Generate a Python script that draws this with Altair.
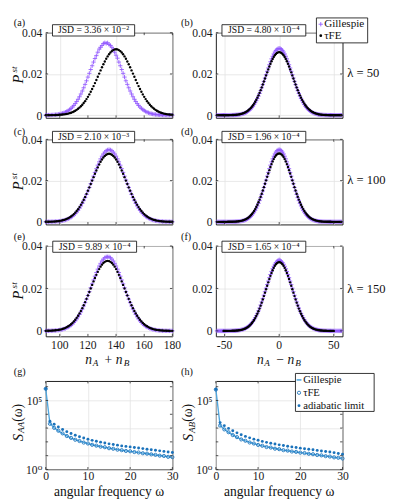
import altair as alt
import pandas as pd

FONT = "Liberation Serif, DejaVu Serif, serif"
PURPLE = "#9259FF"
BLUE = "#1A72BB"
LBLUE = "#4FA6DE"
PLUS = "M-1,0L1,0M0,-1L0,1"
ONE = pd.DataFrame({"k": [0]})
W = 131

# ---------------- tick values / labels ----------------
SUMGRID = [100, 120, 140, 160, 180]
SUMLABELS = ["100", "120", "140", "160", "180"]
DIFGRID = [-50, 0, 50]
DIFLABELS = ["-50", "0", "50"]
PGRID = [0, 200, 400]
WGRID = [0, 10, 20, 30]
SGRID = [1, 10, 100, 1000, 10000, 100000, 1000000]

# ---------------- data: n_A + n_B (x = 90..180) ----------------
x_sum = list(range(90, 181))
a_gil = [0.3, 0.5, 0.6, 0.8, 1.1, 1.5, 2.0, 2.6, 3.4, 4.4,
         5.7, 7.3, 9.2, 11.7, 14.6, 18.1, 22.2, 27.2, 32.9, 39.7,
         47.4, 56.1, 66.1, 77.1, 89.4, 102.8, 117.4, 133.0, 149.5, 166.8,
         184.8, 203.1, 221.5, 239.8, 257.7, 274.8, 289.0, 305.5, 320.5, 329.5,
         338.3, 347.5, 351.2, 348.5, 350.9, 343.0, 338.3, 329.5, 320.1, 305.5,
         290.8, 276.5, 257.7, 239.8, 221.5, 203.1, 184.8, 166.8, 149.5, 133.0,
         117.4, 102.8, 89.4, 77.1, 66.1, 56.1, 47.4, 39.7, 32.9, 27.2,
         22.2, 18.1, 14.6, 11.7, 9.2, 7.3, 5.7, 4.4, 3.4, 2.6,
         2.0, 1.5, 1.1, 0.8, 0.6, 0.5, 0.3, 0.2, 0.2, 0.1,
         0.1]
a_tfe = [0.1, 0.2, 0.2, 0.3, 0.4, 0.5, 0.6, 0.9, 1.1, 1.5,
         1.9, 2.5, 3.1, 4.0, 5.1, 6.3, 7.9, 9.8, 12.1, 14.8,
         18.0, 21.7, 26.0, 31.0, 36.8, 43.3, 50.7, 58.9, 68.0, 78.0,
         89.0, 100.8, 113.5, 126.9, 141.1, 155.8, 170.9, 186.3, 201.9, 217.3,
         232.4, 246.9, 260.7, 273.6, 285.2, 295.4, 304.0, 310.9, 315.9, 319.0,
         320.0, 319.0, 315.9, 310.9, 304.0, 295.4, 285.2, 273.6, 260.7, 246.9,
         232.4, 217.3, 201.9, 186.3, 170.9, 155.8, 141.1, 126.9, 113.5, 100.8,
         89.0, 78.0, 68.0, 58.9, 50.7, 43.3, 36.8, 31.0, 26.0, 21.7,
         18.0, 14.8, 12.1, 9.8, 7.9, 6.3, 5.1, 4.0, 3.1, 2.5,
         1.9]
c_gil = [0.2, 0.2, 0.3, 0.5, 0.6, 0.8, 1.1, 1.5, 2.0, 2.6,
         3.4, 4.4, 5.7, 7.3, 9.2, 11.7, 14.6, 18.1, 22.2, 27.2,
         32.9, 39.7, 47.4, 56.1, 66.1, 77.1, 89.4, 102.8, 117.4, 133.0,
         149.5, 166.8, 184.8, 203.1, 221.5, 239.8, 257.7, 274.8, 290.8, 305.5,
         318.4, 329.5, 338.3, 344.8, 348.7, 350.0, 348.7, 344.8, 338.3, 329.5,
         318.4, 305.5, 290.8, 274.8, 257.7, 239.8, 221.5, 203.1, 184.8, 166.8,
         149.5, 133.0, 117.4, 102.8, 89.4, 77.1, 66.1, 56.1, 47.4, 39.7,
         32.9, 27.2, 22.2, 18.1, 14.6, 11.7, 9.2, 7.3, 5.7, 4.4,
         3.4, 2.6, 2.0, 1.5, 1.1, 0.8, 0.6, 0.5, 0.3, 0.2,
         0.2]
c_tfe = [0.3, 0.4, 0.5, 0.7, 1.0, 1.3, 1.7, 2.2, 2.8, 3.7,
         4.7, 6.0, 7.5, 9.4, 11.7, 14.5, 17.8, 21.7, 26.3, 31.5,
         37.7, 44.6, 52.6, 61.5, 71.4, 82.3, 94.2, 107.2, 121.0, 135.7,
         151.1, 167.1, 183.5, 200.1, 216.8, 233.2, 249.1, 264.2, 278.4, 291.2,
         302.6, 312.2, 319.8, 325.4, 328.8, 330.0, 328.8, 325.4, 319.8, 312.2,
         302.6, 291.2, 278.4, 264.2, 249.1, 233.2, 216.8, 200.1, 183.5, 167.1,
         151.1, 135.7, 121.0, 107.2, 94.2, 82.3, 71.4, 61.5, 52.6, 44.6,
         37.7, 31.5, 26.3, 21.7, 17.8, 14.5, 11.7, 9.4, 7.5, 6.0,
         4.7, 3.7, 2.8, 2.2, 1.7, 1.3, 1.0, 0.7, 0.5, 0.4,
         0.3]
e_gil = [0.2, 0.3, 0.5, 0.6, 0.8, 1.1, 1.5, 2.0, 2.6, 3.4,
         4.4, 5.7, 7.3, 9.2, 11.7, 14.6, 18.1, 22.2, 27.2, 32.9,
         39.7, 47.4, 56.1, 66.1, 77.1, 89.4, 102.8, 117.4, 133.0, 149.5,
         166.8, 184.8, 203.1, 221.5, 239.8, 257.7, 274.8, 290.8, 305.5, 318.4,
         329.5, 338.3, 344.8, 348.7, 349.0, 348.7, 344.8, 338.3, 329.5, 318.4,
         305.5, 290.8, 274.8, 257.7, 239.8, 221.5, 203.1, 184.8, 166.8, 149.5,
         133.0, 117.4, 102.8, 89.4, 77.1, 66.1, 56.1, 47.4, 39.7, 32.9,
         27.2, 22.2, 18.1, 14.6, 11.7, 9.2, 7.3, 5.7, 4.4, 3.4,
         2.6, 2.0, 1.5, 1.1, 0.8, 0.6, 0.5, 0.3, 0.2, 0.2,
         0.1]
e_tfe = [0.4, 0.5, 0.7, 1.0, 1.3, 1.7, 2.2, 2.8, 3.7, 4.7,
         6.0, 7.5, 9.4, 11.7, 14.5, 17.8, 21.7, 26.3, 31.5, 37.7,
         44.6, 52.6, 61.5, 71.4, 82.3, 94.2, 107.2, 121.0, 135.7, 151.1,
         167.1, 183.5, 200.1, 216.8, 233.2, 249.1, 264.2, 278.4, 291.2, 302.6,
         312.2, 319.8, 325.4, 328.8, 330.0, 328.8, 325.4, 319.8, 312.2, 302.6,
         291.2, 278.4, 264.2, 249.1, 233.2, 216.8, 200.1, 183.5, 167.1, 151.1,
         135.7, 121.0, 107.2, 94.2, 82.3, 71.4, 61.5, 52.6, 44.6, 37.7,
         31.5, 26.3, 21.7, 17.8, 14.5, 11.7, 9.4, 7.5, 6.0, 4.7,
         3.7, 2.8, 2.2, 1.7, 1.3, 1.0, 0.7, 0.5, 0.4, 0.3,
         0.2]

# ---------------- data: n_A - n_B (x = -57..57) ----------------
x_dif = list(range(-57, 58))
x_dif_f = list(range(-51, 51))
b_gil = [0, 0, 0, 0, 0, 0, 0, 0.1, 0.1, 0.1,
         0.2, 0.2, 0.3, 0.4, 0.5, 0.7, 0.9, 1.3, 1.7, 2.1,
         2.8, 3.6, 4.6, 5.9, 7.4, 9.3, 11.5, 14.2, 17.5, 21.3,
         25.8, 31.0, 37.0, 43.8, 51.6, 60.4, 70.1, 80.8, 92.5, 105.2,
         118.8, 133.2, 148.3, 164.0, 180.2, 196.5, 212.9, 228.9, 244.6, 259.4,
         273.3, 285.9, 297.1, 306.5, 314.0, 319.5, 322.9, 324.0, 322.9, 319.5,
         314.0, 306.5, 297.1, 285.9, 273.3, 259.4, 244.6, 228.9, 212.9, 196.5,
         180.2, 164.0, 148.3, 133.2, 118.8, 105.2, 92.5, 80.8, 70.1, 60.4,
         51.6, 43.8, 37.0, 31.0, 25.8, 21.3, 17.5, 14.2, 11.5, 9.3,
         7.4, 5.9, 4.6, 3.6, 2.8, 2.1, 1.7, 1.3, 0.9, 0.7,
         0.5, 0.4, 0.3, 0.2, 0.2, 0.1, 0.1, 0.1, 0, 0,
         0, 0, 0, 0, 0]
b_tfe = [0, 0, 0, 0, 0.1, 0.1, 0.1, 0.1, 0.2, 0.2,
         0.3, 0.3, 0.5, 0.6, 0.8, 1.1, 1.4, 1.8, 2.4, 3.0,
         3.8, 4.8, 6.1, 7.6, 9.4, 11.5, 14.1, 17.2, 20.7, 24.9,
         29.7, 35.2, 41.4, 48.4, 56.3, 65.0, 74.6, 85.1, 96.4, 108.5,
         121.4, 134.9, 149.0, 163.4, 178.2, 193.0, 207.8, 222.2, 236.1, 249.3,
         261.6, 272.7, 282.5, 290.7, 297.3, 302.1, 305.0, 306.0, 305.0, 302.1,
         297.3, 290.7, 282.5, 272.7, 261.6, 249.3, 236.1, 222.2, 207.8, 193.0,
         178.2, 163.4, 149.0, 134.9, 121.4, 108.5, 96.4, 85.1, 74.6, 65.0,
         56.3, 48.4, 41.4, 35.2, 29.7, 24.9, 20.7, 17.2, 14.1, 11.5,
         9.4, 7.6, 6.1, 4.8, 3.8, 3.0, 2.4, 1.8, 1.4, 1.1,
         0.8, 0.6, 0.5, 0.3, 0.3, 0.2, 0.2, 0.1, 0.1, 0.1,
         0.1, 0, 0, 0, 0]
d_gil = [0, 0, 0, 0, 0, 0, 0, 0, 0, 0,
         0.1, 0.1, 0.2, 0.2, 0.3, 0.5, 0.6, 0.8, 1.1, 1.5,
         2.0, 2.6, 3.4, 4.4, 5.7, 7.3, 9.2, 11.7, 14.6, 18.1,
         22.2, 27.2, 32.9, 39.7, 47.4, 56.1, 66.1, 77.1, 89.4, 102.8,
         117.4, 133.0, 149.5, 166.8, 184.8, 203.1, 221.5, 239.8, 257.7, 274.8,
         290.8, 305.5, 318.4, 329.5, 338.3, 344.8, 348.7, 350.0, 348.7, 344.8,
         338.3, 329.5, 318.4, 305.5, 290.8, 274.8, 257.7, 239.8, 221.5, 203.1,
         184.8, 166.8, 149.5, 133.0, 117.4, 102.8, 89.4, 77.1, 66.1, 56.1,
         47.4, 39.7, 32.9, 27.2, 22.2, 18.1, 14.6, 11.7, 9.2, 7.3,
         5.7, 4.4, 3.4, 2.6, 2.0, 1.5, 1.1, 0.8, 0.6, 0.5,
         0.3, 0.2, 0.2, 0.1, 0.1, 0, 0, 0, 0, 0,
         0, 0, 0, 0, 0]
d_tfe = [0, 0, 0, 0, 0, 0, 0, 0, 0, 0.1,
         0.2, 0.2, 0.3, 0.4, 0.5, 0.7, 1.0, 1.3, 1.7, 2.2,
         2.9, 3.7, 4.7, 6.0, 7.6, 9.5, 11.8, 14.6, 17.9, 21.8,
         26.4, 31.7, 37.9, 44.9, 52.9, 61.9, 71.8, 82.8, 94.8, 107.8,
         121.7, 136.5, 152.0, 168.1, 184.6, 201.4, 218.1, 234.6, 250.6, 265.8,
         280.1, 293.0, 304.4, 314.1, 321.8, 327.4, 330.8, 332.0, 330.8, 327.4,
         321.8, 314.1, 304.4, 293.0, 280.1, 265.8, 250.6, 234.6, 218.1, 201.4,
         184.6, 168.1, 152.0, 136.5, 121.7, 107.8, 94.8, 82.8, 71.8, 61.9,
         52.9, 44.9, 37.9, 31.7, 26.4, 21.8, 17.9, 14.6, 11.8, 9.5,
         7.6, 6.0, 4.7, 3.7, 2.9, 2.2, 1.7, 1.3, 1.0, 0.7,
         0.5, 0.4, 0.3, 0.2, 0.2, 0.1, 0, 0, 0, 0,
         0, 0, 0, 0, 0]
f_gil = [0, 0, 0, 0, 0, 0, 0, 0, 0, 0.1,
         0.2, 0.2, 0.3, 0.4, 0.5, 0.7, 1.0, 1.3, 1.7, 2.2,
         2.9, 3.7, 4.7, 6.0, 7.6, 9.5, 11.8, 14.6, 17.9, 21.8,
         26.4, 31.7, 37.9, 44.9, 52.9, 61.9, 71.8, 82.8, 94.8, 107.8,
         121.7, 136.5, 152.0, 168.1, 184.6, 201.4, 218.1, 234.6, 250.6, 265.8,
         280.1, 293.0, 304.4, 314.1, 321.8, 328.0, 332.0, 335.0, 331.5, 327.4,
         321.8, 314.1, 304.4, 293.0, 280.1, 265.8, 250.6, 234.6, 218.1, 201.4,
         184.6, 168.1, 152.0, 136.5, 121.7, 107.8, 94.8, 82.8, 71.8, 61.9,
         52.9, 44.9, 37.9, 31.7, 26.4, 21.8, 17.9, 14.6, 11.8, 9.5,
         7.6, 6.0, 4.7, 3.7, 2.9, 2.2, 1.7, 1.3, 1.0, 0.7,
         0.5, 0.4, 0.3, 0.2, 0.2, 0.1, 0, 0, 0, 0,
         0, 0, 0, 0, 0]
f_tfe = [0, 0.1, 0.1, 0.1,
         0.2, 0.2, 0.3, 0.4, 0.5, 0.7, 0.9, 1.3, 1.7, 2.1,
         2.8, 3.6, 4.6, 5.9, 7.4, 9.3, 11.5, 14.2, 17.5, 21.3,
         25.8, 31.0, 37.0, 43.8, 51.6, 60.4, 70.1, 80.8, 92.5, 105.2,
         118.8, 133.2, 148.3, 164.0, 180.2, 196.5, 212.9, 228.9, 244.6, 259.4,
         273.3, 285.9, 297.1, 306.5, 314.0, 319.5, 322.9, 324.0, 322.9, 319.5,
         314.0, 306.5, 297.1, 285.9, 273.3, 259.4, 244.6, 228.9, 212.9, 196.5,
         180.2, 164.0, 148.3, 133.2, 118.8, 105.2, 92.5, 80.8, 70.1, 60.4,
         51.6, 43.8, 37.0, 31.0, 25.8, 21.3, 17.5, 14.2, 11.5, 9.3,
         7.4, 5.9, 4.6, 3.6, 2.8, 2.1, 1.7, 1.3, 0.9, 0.7,
         0.5, 0.4, 0.3, 0.2, 0.2, 0.1, 0.1, 0.1]

# ---------------- data: spectra (omega = 0..30) ----------------
omega = list(range(0, 31))
g_gil = [7.1e5, 2140, 1070, 630, 400, 270, 190, 145, 112, 91, 74, 62, 52, 46, 40, 35,
         31, 27.5, 24.5, 22.4, 20.4, 18.6, 16.6, 15.1, 13.8, 12.6, 11.2, 10.2, 9.3, 8.3, 7.6]
g_tfe = [7.0e5, 2050, 1040, 640, 410, 265, 195, 142, 115, 89, 76, 61, 53, 45, 41, 34.5,
         31.5, 27, 25, 22, 20.8, 18.3, 16.9, 14.9, 14.0, 12.4, 11.4, 10.0, 9.5, 8.2, 7.8]
g_adi = [7.3e5, 3160, 1900, 1200, 790, 550, 400, 300, 235, 190, 155, 129, 110, 95, 83, 72,
         65, 58, 51, 47, 43, 39, 35.5, 32.4, 29.5, 26.9, 24.5, 22.4, 20.4, 18.6, 17.0]
h_gil = [6.3e5, 1580, 820, 490, 320, 215, 155, 118, 92, 75, 61, 51, 43, 38, 33, 29,
         25.5, 22.8, 20.3, 18.5, 16.8, 15.3, 13.8, 12.5, 11.4, 10.3, 9.3, 8.5, 7.6, 6.9, 6.3]
h_tfe = [6.2e5, 1520, 800, 500, 310, 220, 150, 120, 90, 76, 60, 52, 42, 38.5, 32, 29.5,
         25, 23.2, 20, 18.8, 16.5, 15.5, 13.6, 12.7, 11.2, 10.5, 9.2, 8.6, 7.5, 7.0, 6.2]
h_adi = [6.5e5, 2500, 1500, 950, 640, 450, 330, 250, 195, 158, 130, 108, 92, 80, 70, 61,
         54, 48, 43, 39, 35, 32, 29, 26.5, 24, 22, 20, 18.2, 16.5, 14.5, 12.6]

YEXPR = "datum.value == 0 ? '0' : format(datum.value / 10000, '.2f')"
LOGEXPR = "datum.value == 1 ? '10⁰' : (datum.value == 100000 ? '10⁵' : '')"
TICK = "#262626"


def T(s, x, y, size, style="normal", align="center", angle=None):
    kw = dict(text=s, font=FONT, fontSize=size, fontStyle=style, align=align,
              baseline="middle", color="#111111")
    if angle is not None:
        kw["angle"] = angle
    return alt.Chart(ONE).mark_text(**kw).encode(x=alt.value(x), y=alt.value(y))


def BOX(x1, x2, y1, y2):
    return alt.Chart(ONE).mark_rect(fill="white", stroke="#1a1a1a", strokeWidth=0.9, opacity=1).encode(
        x=alt.value(x1), x2=alt.value(x2), y=alt.value(y1), y2=alt.value(y2))


def inner_ticks(xf, xvals, yf, yvals, H):
    dx = pd.DataFrame({xf: xvals})
    dy = pd.DataFrame({yf: yvals})
    return [
        alt.Chart(dx).mark_rule(color=TICK, strokeWidth=0.8).encode(
            x=alt.X(f"{xf}:Q", title=None), y=alt.value(H), y2=alt.value(H - 2.5)),
        alt.Chart(dx).mark_rule(color=TICK, strokeWidth=0.8).encode(
            x=alt.X(f"{xf}:Q", title=None), y=alt.value(0), y2=alt.value(2.5)),
        alt.Chart(dy).mark_rule(color=TICK, strokeWidth=0.8).encode(
            y=alt.Y(f"{yf}:Q", title=None), x=alt.value(0), x2=alt.value(2.5)),
        alt.Chart(dy).mark_rule(color=TICK, strokeWidth=0.8).encode(
            y=alt.Y(f"{yf}:Q", title=None), x=alt.value(W), x2=alt.value(W - 2.5)),
    ]


def dist_panel(xg, g, xt, t, xdom, xgrid, xlabels, H, ylo, xlab, jsd, jbox, lab, labx, laby,
               lam=None, legend=False, ytitle=False, op=None):
    dg = pd.DataFrame({"x": xg, "p": g})
    dt = pd.DataFrame({"x": xt, "p": t})
    xax = alt.Axis(values=xgrid, labels=False, grid=True, labelOverlap=False)
    yax = alt.Axis(values=PGRID, grid=True, labelPadding=4, labelExpr=YEXPR)
    L = [
        alt.Chart(dg).mark_point(shape=PLUS, filled=False, size=20, strokeWidth=0.9,
                                 color=PURPLE, opacity=1).encode(
            x=alt.X("x:Q", scale=alt.Scale(domain=xdom, nice=False, zero=False), axis=xax, title=None),
            y=alt.Y("p:Q", scale=alt.Scale(domain=[ylo, 400], nice=False, zero=False), axis=yax, title=None)),
        alt.Chart(dt).mark_circle(size=6, color="black", opacity=1).encode(
            x=alt.X("x:Q", title=None), y=alt.Y("p:Q", title=None)),
    ]
    L += inner_ticks("x", xgrid, "p", PGRID, H)
    if xlab:
        lab_df = pd.DataFrame({"x": xgrid, "t": xlabels})
        L.append(alt.Chart(lab_df).mark_text(font=FONT, fontSize=12, baseline="middle",
                                             color="#1a1a1a").encode(
            x=alt.X("x:Q", title=None), y=alt.value(H + 9.4), text="t:N"))
    x1, x2, y1, y2 = jbox
    L += [BOX(x1, x2, y1, y2), T(jsd, (x1 + x2) / 2, (y1 + y2) / 2, 10),
          T(lab, labx, laby, 10.5, align="left")]
    if lam:
        L.append(T(lam, 136, H / 2 - 2, 13, align="left"))
    if legend:
        L += [BOX(104, 157, -15.3, 10.5),
              alt.Chart(ONE).mark_point(shape=PLUS, filled=False, size=20, strokeWidth=0.9,
                                        color=PURPLE, opacity=1).encode(x=alt.value(108.5), y=alt.value(-8.8)),
              T("Gillespie", 112, -8.8, 11.5, align="left"),
              alt.Chart(ONE).mark_circle(size=8, color="black", opacity=1).encode(
                  x=alt.value(108.5), y=alt.value(3)),
              T("τFE", 112, 3, 11.5, align="left")]
    if ytitle:
        L += [T("P", -29, H / 2 + 4, 15, style="italic", angle=270),
              T("st", -32.5, H / 2 - 6, 9.5, style="italic", angle=270)]
    if op:
        c = 64 if op == "+" else 65.5
        L += [T("n", c - 19.5, H + 24.7, 14, style="italic"),
              T("A", c - 12.5, H + 28.2, 9.5, style="italic"),
              T(op, c + 0.8, H + 24.7, 14),
              T("n", c + 12, H + 24.7, 14, style="italic"),
              T("B", c + 19.5, H + 28.2, 9.5, style="italic")]
    return alt.layer(*L).properties(width=W, height=H)


def spec_panel(gil, tfe, adi, lab, labx, sub, legend=False):
    H = 91.5
    d = pd.DataFrame({"w": omega, "gil": gil, "tfe": tfe, "adi": adi})
    xax = alt.Axis(values=WGRID, grid=True, labelPadding=1.5, labelFlush=False,
                   labelOverlap=False)
    yax = alt.Axis(values=[1, 10, 1000, 100000], grid=True, labelPadding=4,
                   labelExpr=LOGEXPR, labelOverlap=False)
    L = [
        alt.Chart(d).mark_line(color=LBLUE, strokeWidth=1.4).encode(
            x=alt.X("w:Q", scale=alt.Scale(domain=[0, 30], nice=False, zero=False), axis=xax, title=None),
            y=alt.Y("gil:Q", scale=alt.Scale(type="log", domain=[1, 2.6e6], nice=False), axis=yax, title=None)),
        alt.Chart(d).mark_point(shape="circle", filled=False, size=11, strokeWidth=0.9,
                                color=BLUE, opacity=1).encode(
            x=alt.X("w:Q", title=None), y=alt.Y("tfe:Q", title=None)),
        alt.Chart(d).mark_circle(size=9, color=BLUE, opacity=1).encode(
            x=alt.X("w:Q", title=None), y=alt.Y("adi:Q", title=None)),
    ]
    L += inner_ticks("w", WGRID, "gil", SGRID, H)
    L += [
        T(lab, labx, -8.8, 10.5, align="left"),
        T("S", -28.5, 58.5, 15, style="italic", angle=270),
        T(sub, -25, 48, 9.5, style="italic", angle=270),
        T("(ω)", -28.5, 33, 14, angle=270),
        T("angular frequency ω", 65.5, H + 23.5, 14),
    ]
    if legend:
        L += [BOX(82.3, 163.7, -7.8, 31.5),
              alt.Chart(ONE).mark_rule(color=LBLUE, strokeWidth=1.6).encode(
                  x=alt.value(83.5), x2=alt.value(88.5), y=alt.value(-1.1)),
              T("Gillespie", 90.3, -1.1, 11, align="left"),
              alt.Chart(ONE).mark_point(shape="circle", filled=False, size=11, strokeWidth=0.9,
                                        color=BLUE, opacity=1).encode(x=alt.value(86), y=alt.value(12.2)),
              T("τFE", 90.3, 12.2, 11, align="left"),
              alt.Chart(ONE).mark_circle(size=9, color=BLUE, opacity=1).encode(
                  x=alt.value(86), y=alt.value(25.5)),
              T("adiabatic limit", 90.3, 25.5, 11, align="left")]
    return alt.layer(*L).properties(width=W, height=H)


def dummy():
    return alt.Chart(ONE).mark_point(opacity=0).encode(x=alt.value(0), y=alt.value(0)).properties(
        width=W, height=0.1, view=alt.ViewBackground(stroke="transparent"))


SUMDOM = [90, 180]
DIFDOM = [-58, 58]
JL = (7, 92, -8.3, 3.4)
JR = (6.3, 93, -8.3, 3.4)

pa = dist_panel(x_sum, a_gil, x_sum, a_tfe, SUMDOM, SUMGRID, SUMLABELS, 88, -12.7, False,
                "JSD = 3.36 × 10⁻²", JL, "(a)", -33, -10, ytitle=True)
pb = dist_panel(x_dif, b_gil, x_dif, b_tfe, DIFDOM, DIFGRID, DIFLABELS, 88, -12.7, False,
                "JSD = 4.80 × 10⁻⁴", JR, "(b)", -36, -10, lam="λ = 50", legend=True)
pc = dist_panel(x_sum, c_gil, x_sum, c_tfe, SUMDOM, SUMGRID, SUMLABELS, 88, -12.7, False,
                "JSD = 2.10 × 10⁻³", JL, "(c)", -33, -8, ytitle=True)
pd_ = dist_panel(x_dif, d_gil, x_dif, d_tfe, DIFDOM, DIFGRID, DIFLABELS, 88, -12.7, False,
                 "JSD = 1.96 × 10⁻⁴", JR, "(d)", -36, -8, lam="λ = 100")
pe = dist_panel(x_sum, e_gil, x_sum, e_tfe, SUMDOM, SUMGRID, SUMLABELS, 93.4, -25.5, True,
                "JSD = 9.89 × 10⁻⁴", (7.3, 94, -5, 6.5), "(e)", -33, -9, ytitle=True, op="+")
pf = dist_panel(x_dif, f_gil, x_dif_f, f_tfe, DIFDOM, DIFGRID, DIFLABELS, 93.4, -25.5, True,
                "JSD = 1.65 × 10⁻⁴", (6.3, 93, -5, 6.5), "(f)", -36, -9, lam="λ = 150", op="−")
pg = spec_panel(g_gil, g_tfe, g_adi, "(g)", -33, "AA")
ph = spec_panel(h_gil, h_tfe, h_adi, "(h)", -36, "AB", legend=True)

chart = alt.concat(pa, pb, pc, pd_, pe, pf, dummy(), dummy(), pg, ph,
                   columns=2, spacing={"row": 22.3, "column": 45},
                   bounds="flush", align="each").properties(
    padding=0, background="white"
).configure_view(stroke="#1a1a1a", strokeWidth=1).configure_axis(
    labelFont=FONT, labelFontSize=12, labelColor="#1a1a1a", gridColor="#e3e3e3",
    gridWidth=0.8, gridOpacity=1, domain=False, ticks=False, labelOverlap=False)

chart.save("out.html", embed_options={"renderer": "svg", "actions": False})
